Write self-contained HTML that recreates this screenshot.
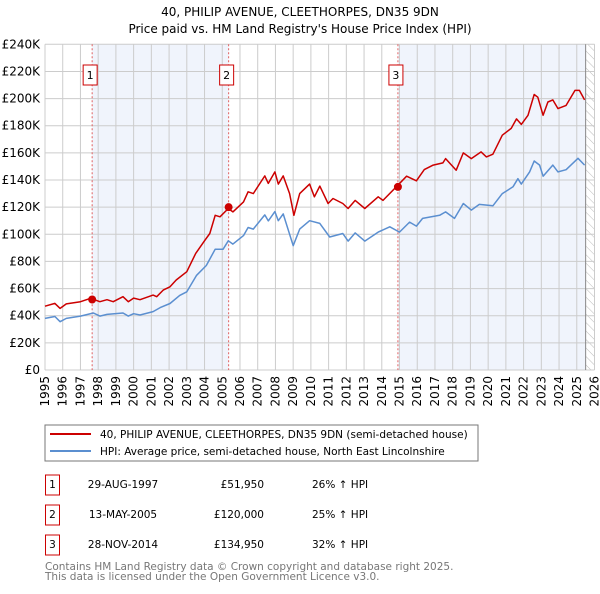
<!DOCTYPE html>
<html><head><meta charset="utf-8"><style>
body{margin:0;background:#fff;width:600px;height:590px;overflow:hidden;font-family:"DejaVu Sans","Liberation Sans",sans-serif}
svg text{font-family:"DejaVu Sans","Liberation Sans",sans-serif}
</style></head><body>
<svg id="chart" width="600" height="590" xmlns="http://www.w3.org/2000/svg">
<text x="300" y="16" text-anchor="middle" font-size="12">40, PHILIP AVENUE, CLEETHORPES, DN35 9DN</text>
<text x="300" y="33" text-anchor="middle" font-size="12">Price paid vs. HM Land Registry's House Price Index (HPI)</text>
<defs><pattern id="hatch" width="6" height="6" patternUnits="userSpaceOnUse" patternTransform="rotate(-45)"><line x1="0" y1="0" x2="0" y2="6" stroke="#bbb" stroke-width="1"/></pattern></defs>
<g id="plot"></g>
<rect x="45" y="425" width="433" height="36" fill="#fff" stroke="#777"/>
<line x1="50" y1="434" x2="91" y2="434" stroke="#cc0000" stroke-width="2"/>
<text x="100" y="438" font-size="10.5">40, PHILIP AVENUE, CLEETHORPES, DN35 9DN (semi-detached house)</text>
<line x1="50" y1="451" x2="91" y2="451" stroke="#5b8fd0" stroke-width="2"/>
<text x="100" y="455" font-size="10.5">HPI: Average price, semi-detached house, North East Lincolnshire</text>
<g id="table" font-size="10.5"></g>
<text x="45" y="570" font-size="10.5" fill="#777">Contains HM Land Registry data © Crown copyright and database right 2025.</text>
<text x="45" y="580" font-size="10.5" fill="#777">This data is licensed under the Open Government Licence v3.0.</text>
</svg>
<script>
const yTicks=[0,20,40,60,80,100,120,140,160,180,200,220,240];
const xYears=[1995,1996,1997,1998,1999,2000,2001,2002,2003,2004,2005,2006,2007,2008,2009,2010,2011,2012,2013,2014,2015,2016,2017,2018,2019,2020,2021,2022,2023,2024,2025,2026];
const hpiT=[1995,1995.56,1995.85,1996.2,1997,1997.73,1998.1,1998.5,1999.4,1999.7,2000,2000.36,2001.1,2001.5,2002.05,2002.6,2003,2003.55,2004.1,2004.6,2005.05,2005.34,2005.6,2006.2,2006.46,2006.75,2007.4,2007.6,2007.97,2008.16,2008.44,2009.0,2009.37,2009.93,2010.5,2011.06,2011.8,2012.1,2012.5,2013.04,2013.8,2014.45,2015.0,2015.57,2015.95,2016.3,2017.26,2017.6,2018.1,2018.6,2019.05,2019.5,2020.27,2020.8,2021.4,2021.68,2021.87,2022.34,2022.6,2022.9,2023.1,2023.65,2023.94,2024.4,2025.07,2025.44];
const hpiV=[38,39.4,35.6,38,39.7,42,39.7,41,42,39.7,41.5,40.5,43,46,49,55,57.6,69.8,77,89,89,95.2,92.8,99,105,103.8,114.3,109.9,116.7,110,115,91.6,103.8,110,108,98,100.6,95,101,95,101.6,105.5,101.6,109,106,111.7,114,116.5,111.7,122.7,117.8,122,121,130,135,141,137,146,154,151,142.8,151,146,147.6,156,151];
const ppT=[1995,1995.56,1995.85,1996.2,1997,1997.57,1998.1,1998.5,1998.85,1999.4,1999.7,2000,2000.36,2001.1,2001.3,2001.67,2002.05,2002.4,2003,2003.5,2004,2004.3,2004.6,2004.87,2005.34,2005.6,2006.2,2006.46,2006.75,2007.4,2007.6,2007.97,2008.16,2008.44,2008.8,2009.04,2009.37,2009.93,2010.2,2010.5,2010.97,2011.25,2011.8,2012.1,2012.5,2013.04,2013.8,2014.07,2014.82,2015.4,2015.95,2016.4,2016.9,2017.45,2017.6,2018.2,2018.6,2019.05,2019.6,2019.9,2020.27,2020.8,2021.3,2021.6,2021.87,2022.25,2022.6,2022.8,2023.1,2023.37,2023.65,2023.94,2024.4,2024.9,2025.15,2025.44];
const ppV=[47,49.1,45.4,48.7,50.3,52.8,50.3,51.8,50.3,54,50.3,53,51.8,55.2,54,58.9,61.3,66.3,72.4,85.9,95.2,100.6,114,112.9,119,116.5,123.9,131.3,130,143,137.5,146,137,143,130,114,130,137,127.6,135.5,122.7,126.4,122.7,119,125,119,127.6,125,135,142.8,139.4,147.7,151,152.6,155.8,147.2,160,155.8,160.7,157,159,173,178,185,181,187.7,203,201,187.7,197.5,199,192.6,195,206,206,199];
const saleT=[1997.66,2005.36,2014.91];
const saleV=[51.95,120,134.95];
const saleDates=["29-AUG-1997","13-MAY-2005","28-NOV-2014"];
const salePrices=["£51,950","£120,000","£134,950"];
const saleDiffs=["26% ↑ HPI","25% ↑ HPI","32% ↑ HPI"];
const endT=2025.5;

const X0=45,X1=594.5,Y0=370,Y1=44.3;
const xs=t=>X0+(t-1995)/(2026-1995)*(X1-X0);
const ys=v=>Y0-v/240*(Y0-Y1);
const NS="http://www.w3.org/2000/svg";
const plot=document.getElementById('plot');
function mk(tag,attrs,parent){const e=document.createElementNS(NS,tag);for(const k in attrs)e.setAttribute(k,attrs[k]);(parent||plot).appendChild(e);return e;}

let r=mk('rect',{x:xs(saleT[0]),y:Y1,width:xs(saleT[1])-xs(saleT[0]),height:Y0-Y1,fill:'#f0f4fc'});


r=mk('rect',{x:xs(saleT[2]),y:Y1,width:xs(endT)-xs(saleT[2]),height:Y0-Y1,fill:'#f0f4fc'});


r=mk('rect',{x:xs(endT),y:Y1,width:X1-xs(endT),height:Y0-Y1,fill:'url(#hatch)'});



yTicks.forEach(v=>{
  const l=mk('line',{x1:X0,x2:X1,y1:ys(v),y2:ys(v),stroke:'#ccc','stroke-width':1});
  
  
  const t=mk('text',{x:40,y:ys(v)+4,'text-anchor':'end','font-size':12});
  t.textContent=v===0?'£0':'£'+v+'K';
  
  
});
xYears.forEach(yr=>{
  const x=xs(yr);
  const l=mk('line',{x1:x,x2:x,y1:Y1,y2:Y0,stroke:'#ccc','stroke-width':1});
  
  
  const t=mk('text',{x:0,y:0,'text-anchor':'end','font-size':12,transform:`translate(${x+4},376) rotate(-90)`});
  t.textContent=yr;
  
  
});
let el=mk('line',{x1:xs(endT),x2:xs(endT),y1:Y1,y2:Y0,stroke:'#888','stroke-width':1});



saleT.forEach((t,i)=>{
  const l=mk('line',{x1:xs(t),x2:xs(t),y1:Y1,y2:Y0,stroke:'#e06060','stroke-width':1,'stroke-dasharray':'2,2'});
  
  
  const b=mk('rect',{x:xs(t)-9,y:65,width:14,height:20,fill:'#fff',stroke:'#cc0000'});
  
  
  const tx=mk('text',{x:xs(t)-2,y:79,'text-anchor':'middle','font-size':11});
  tx.textContent=i+1;
  
  
});

function path(T,V,color,name){
  const d=T.map((t,i)=>(i?'L':'M')+xs(t).toFixed(1)+','+ys(V[i]).toFixed(1)).join('');
  const p=mk('path',{d:d,fill:'none',stroke:color,'stroke-width':1.5,'stroke-linejoin':'round'});
  
  
}
path(hpiT,hpiV,'#5b8fd0','hpi-line');
path(ppT,ppV,'#cc0000','price-paid-line');
saleT.forEach((t,i)=>{
  const c=mk('circle',{cx:xs(t),cy:ys(saleV[i]),r:4,fill:'#cc0000'});
  
  
});
const tb=document.getElementById('table');
saleT.forEach((t,i)=>{
  const yc=485+i*30;
  const b=mk('rect',{x:45.5,y:yc-10,width:14,height:20,fill:'#fff',stroke:'#cc0000'},tb);
  
  
  const n=mk('text',{x:52.5,y:yc+3,'text-anchor':'middle'},tb);n.textContent=i+1;
  
  
  const d=mk('text',{x:123,y:yc+3,'text-anchor':'middle'},tb);d.textContent=saleDates[i];
  
  
  const p=mk('text',{x:264,y:yc+3,'text-anchor':'end'},tb);p.textContent=salePrices[i];
  
  
  const h=mk('text',{x:312,y:yc+3},tb);h.textContent=saleDiffs[i];
  
  
});
</script>
</body></html>
